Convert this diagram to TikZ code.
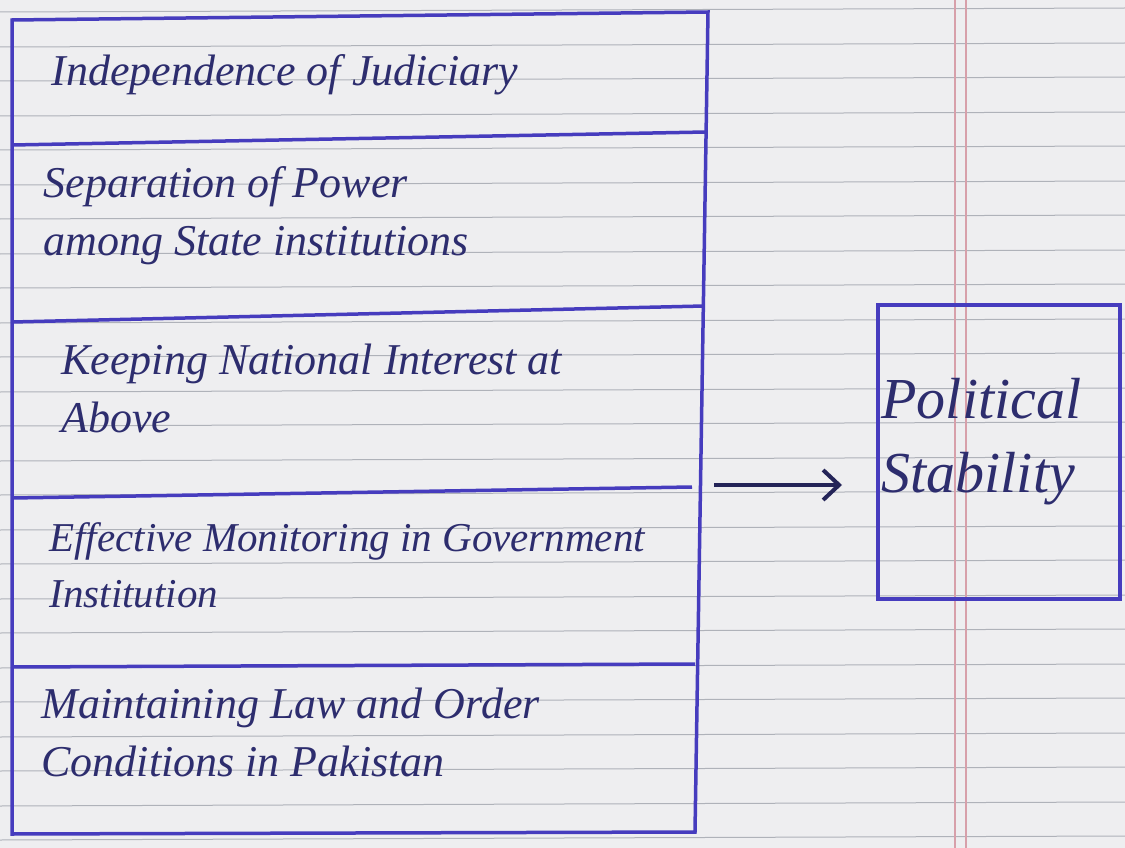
\documentclass[tikz,border=0pt]{standalone}
\usepackage{fontspec}
\setmainfont{Liberation Serif}
\usetikzlibrary{arrows.meta}
\definecolor{paper}{RGB}{238,238,240}
\definecolor{rule}{RGB}{175,178,185}
\definecolor{margin}{RGB}{215,160,170}
\definecolor{boxline}{RGB}{70,60,190}
\definecolor{ink}{RGB}{45,45,110}
\tikzset{
  rowbox/.style={draw=boxline, line width=3.5pt},
  handtext/.style={text=ink, anchor=base west, font=\fontsize{44}{58}\selectfont\itshape, align=left},
  bigtext/.style={text=ink, anchor=base west, font=\fontsize{58}{74}\selectfont\itshape, align=left},
  arrowline/.style={draw=ink!80!black, line width=4pt, -{Straight Barb[length=16pt,width=30pt,line width=4pt]}},
}
\begin{document}
\begin{tikzpicture}[x=1pt,y=-1pt]
\fill[paper] (0,0) rectangle (1125,848);
\useasboundingbox (0,0) rectangle (1125,848);
% ruled paper
\foreach \yy in {12,47,81,116,150,185,219,254,288,323,357,392,426,461,495,530,564,599,633,668,702,737,771,806,840}
  \draw[rule, line width=1pt] (0,\yy) -- (1125,\yy-4);
\draw[margin, line width=1.2pt] (955,0) -- (955,848);
\draw[margin, line width=1.2pt] (966,0) -- (966,848);
% left boxes
\draw[rowbox] (12,20) -- (708,12) -- (695,832) -- (12,834) -- cycle;
\draw[rowbox] (12,145) -- (706,132);
\draw[rowbox] (12,322) -- (704,306);
\draw[rowbox] (12,498) -- (692,487);
\draw[rowbox] (12,667) -- (695,664);
\node[handtext] (t1) at (48,86) {Independence of Judiciary};
\node[handtext] (t2) at (40,255) {Separation of Power\\among State institutions};
\node[handtext] (t3) at (58,432) {Keeping National Interest at\\Above};
\node[handtext, font=\fontsize{41}{56}\selectfont\itshape] (t4) at (46,607) {Effective Monitoring in Government\\Institution};
\node[handtext] (t5) at (38,776) {Maintaining Law and Order\\Conditions in Pakistan};
% right box
\node[draw=boxline, line width=3.5pt, minimum width=242pt, minimum height=294pt] (ps) at (999,452) {};
\node[bigtext] (pst) at (878,492) {Political\\Stability};
\coordinate (from) at (714,485);
\draw[arrowline] (from) -- (842,485);
\end{tikzpicture}
\end{document}
